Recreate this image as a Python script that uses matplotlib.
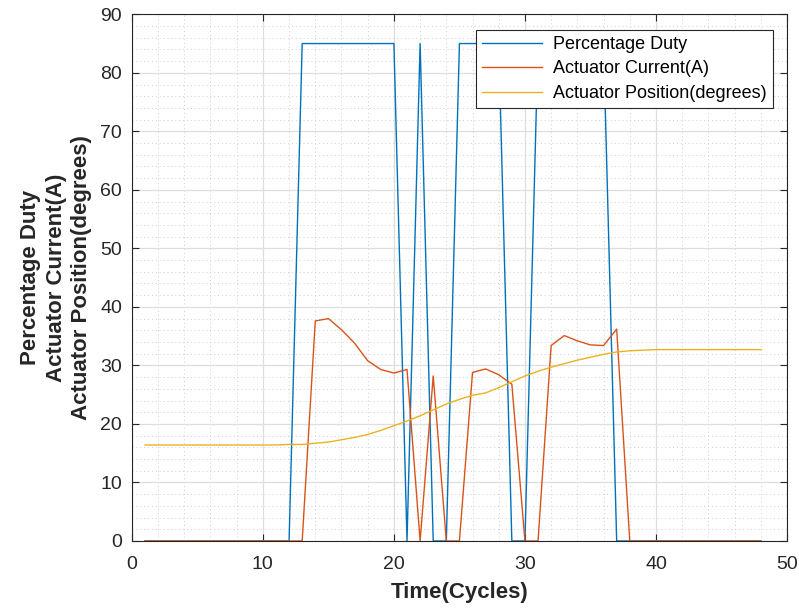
import matplotlib
matplotlib.use("Agg")
import matplotlib.pyplot as plt
from matplotlib.ticker import MultipleLocator

plt.rcParams['font.family'] = ['Liberation Sans', 'DejaVu Sans']

# Sample index (cycles)
cycles = list(range(1, 49))

duty = [0, 0, 0, 0, 0, 0, 0, 0, 0, 0, 0, 0,
        85, 85, 85, 85, 85, 85, 85, 85,
        0, 85, 0, 0,
        85, 85, 85, 85,
        0, 0,
        85, 85, 85, 85, 85, 85,
        0, 0, 0, 0, 0, 0, 0, 0, 0, 0, 0, 0]

current = [0, 0, 0, 0, 0, 0, 0, 0, 0, 0, 0, 0,
           0, 37.6, 38.0, 36.1, 33.8, 30.8, 29.3, 28.7, 29.3,
           0, 28.2, 0, 0,
           28.8, 29.4, 28.4, 26.8,
           0, 0,
           33.4, 35.1, 34.2, 33.5, 33.4, 36.2,
           0, 0, 0, 0, 0, 0, 0, 0, 0, 0, 0]

position = [16.4, 16.4, 16.4, 16.4, 16.4, 16.4, 16.4, 16.4, 16.4, 16.4, 16.4, 16.5,
            16.5, 16.7, 16.9, 17.3, 17.7, 18.2, 18.9, 19.7, 20.5, 21.4, 22.4, 23.4,
            24.2, 24.9, 25.3, 26.2, 27.2, 28.2, 29.0, 29.7, 30.3, 30.9, 31.4, 31.9,
            32.3, 32.5, 32.6, 32.7, 32.7, 32.7, 32.7, 32.7, 32.7, 32.7, 32.7, 32.7]

series_labels = ['Percentage Duty', 'Actuator Current(A)', 'Actuator Position(degrees)']
colors = ['#0072BD', '#D95319', '#EDB120']

fig = plt.figure(figsize=(7.99, 6.11), dpi=100)
ax = fig.add_axes([0.165, 0.1146, 0.82, 0.862])

ax.plot(cycles, duty, color=colors[0], lw=1.0, label=series_labels[0])
ax.plot(cycles, current, color=colors[1], lw=1.0, label=series_labels[1])
ax.plot(cycles, position, color=colors[2], lw=1.0, label=series_labels[2])

ax.set_xlim(0, 50)
ax.set_ylim(0, 90)
ax.xaxis.set_major_locator(MultipleLocator(10))
ax.yaxis.set_major_locator(MultipleLocator(10))
ax.xaxis.set_minor_locator(MultipleLocator(2))
ax.yaxis.set_minor_locator(MultipleLocator(2))

ax.grid(True, which='major', color='#dedede', lw=0.9, ls='-')
ax.grid(True, which='minor', color='#cfcfcf', lw=0.7, ls=(0, (1, 3)))
ax.set_axisbelow(True)

for s in ax.spines.values():
    s.set_color('#262626')
    s.set_linewidth(0.8)

ax.tick_params(which='major', direction='in', length=5, width=0.8,
               top=True, right=True, labelsize=14, colors='#262626',
               labelcolor='#262626')
ax.tick_params(axis='x', which='major', pad=11)
ax.tick_params(axis='y', which='major', pad=7)
ax.tick_params(which='minor', length=0)

ax.set_xlabel('Time(Cycles)', fontsize=16, fontweight='bold', color='#262626', labelpad=6)
ax.set_ylabel('Percentage Duty\nActuator Current(A)\nActuator Position(degrees)',
              fontsize=16, fontweight='bold', color='#262626', labelpad=6,
              linespacing=1.27)
ax.yaxis.label.set_multialignment('center')

leg = ax.legend(loc='upper right', bbox_to_anchor=(0.978, 0.971), fontsize=13,
                frameon=True, fancybox=False, framealpha=1, edgecolor='#262626',
                handlelength=3.3, labelspacing=0.42, borderpad=0.35,
                handletextpad=0.6, borderaxespad=0)
leg.get_frame().set_linewidth(0.8)

fig.savefig('out.png', dpi=100)
